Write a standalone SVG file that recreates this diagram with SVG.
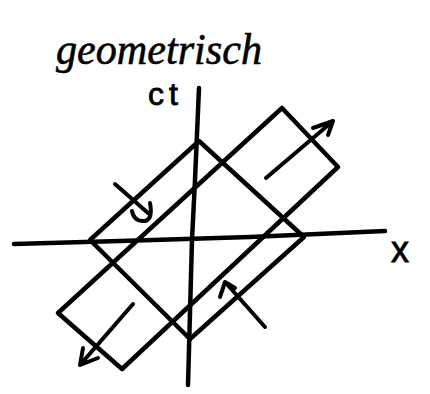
<svg xmlns="http://www.w3.org/2000/svg" width="430" height="394" viewBox="0 0 430 394">
<style>
.ln{fill:none;stroke:#000;stroke-width:4.5;stroke-linecap:round;stroke-linejoin:round}
.ar{fill:none;stroke:#000;stroke-width:4;stroke-linecap:round;stroke-linejoin:round}
.hw{font-family:"Liberation Serif",serif;font-style:italic;fill:#000;stroke:#000;stroke-width:0.6}
.lb{font-family:"Liberation Sans",sans-serif;fill:#000;stroke:#000;stroke-width:0.8}
</style>
<rect width="430" height="394" fill="#fff"/>
<g id="title"><text class="hw" x="56" y="64" font-size="44" textLength="206" lengthAdjust="spacingAndGlyphs">geometrisch</text></g>
<g id="axis-ct">
<path class="ln" d="M199,88 L195,180 L192,240 L188,385"/>
<text class="lb" x="148" y="105" font-size="32" letter-spacing="5">ct</text>
</g>
<g id="axis-x">
<path class="ln" d="M14,244 L120,241 L250,237 L385,231"/>
<text class="lb" x="391" y="262" font-size="36" stroke-width="1.5">x</text>
</g>
<g id="diamond"><path class="ln" d="M199,141 L304,237 L190,339 L90,240 Z"/></g>
<g id="strip"><path class="ln" d="M282,108 L338,167 L122,369 L58,313 Z"/></g>
<g id="connectors">
<path class="ar" d="M266,178 L333,121 M313,128 L333,121 L328,135"/>
<path class="ar" d="M115,184 L148,213 M132,211 Q134,222 145,221 Q153,219 150,203"/>
<path class="ar" d="M265,327 L225,282 M220,297 L225,282 L235,288"/>
<path class="ar" d="M133,304 L80,365 M83,348 L80,365 L98,358"/>
</g>
</svg>
